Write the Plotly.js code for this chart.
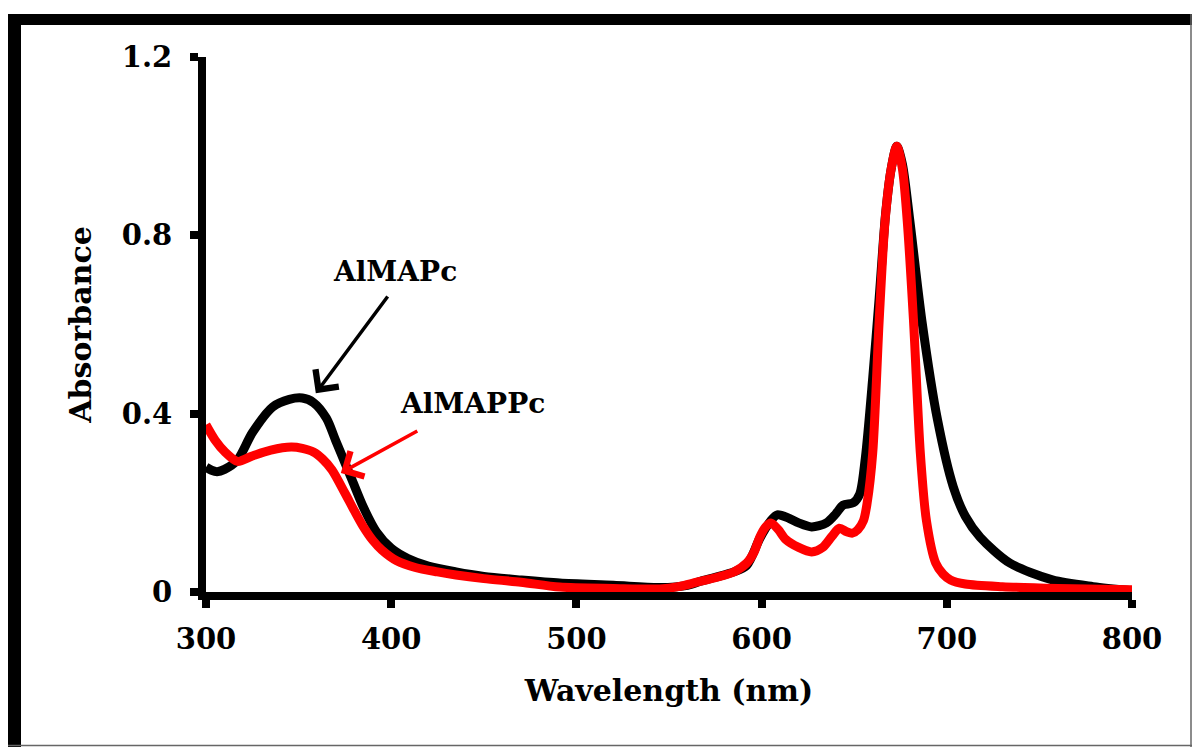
<!DOCTYPE html>
<html>
<head>
<meta charset="utf-8">
<script src="https://cdn.plot.ly/plotly-3.0.1.min.js"></script>
<style>
  html, body { margin: 0; padding: 0; background: #fff; }
  #chart { width: 1192px; height: 747px; }
</style>
</head>
<body>
<div id="chart"></div>
<script>
// ---- data ----
const blackName = "AlMAPc";
const redName = "AlMAPPc";

const wlBlack = [300,303,306,310,317,325,336,345,352,358,365,370,375,379,385,392,400,409,420,435,450,470,491,520,545,560,567,575,585,592,599,605,608.5,615,620,627,635,640,644,649.5,653,656,660,663.5,667,670,673,676,680,686.5,695,703.5,710,718,734,757,779,800];
const absBlack = [0.28,0.273,0.27,0.275,0.296,0.357,0.415,0.432,0.435,0.425,0.39,0.34,0.29,0.25,0.19,0.135,0.098,0.075,0.058,0.045,0.035,0.027,0.02,0.015,0.01,0.015,0.024,0.033,0.045,0.06,0.12,0.16,0.173,0.165,0.155,0.146,0.155,0.175,0.195,0.2,0.22,0.3,0.48,0.66,0.85,0.95,1.0,0.96,0.834,0.61,0.386,0.236,0.17,0.123,0.065,0.027,0.012,0.003];

const wlRed = [300,305,310,317,325,335,346,352,358,363,368,375,380,385,390,395,403,413,425,435,450,470,491,520,545,555,565,575,585,592,596,599,602,605,609,613,620,627,633,638,642,646,649,652,655,657,660,663.5,666.7,670,673,676,678.6,682,685.7,689,694,698,702,710,730,760,800];
const absRed = [0.375,0.34,0.315,0.293,0.305,0.318,0.325,0.322,0.314,0.298,0.274,0.222,0.183,0.146,0.116,0.094,0.07,0.055,0.045,0.038,0.03,0.022,0.011,0.008,0.007,0.012,0.022,0.032,0.045,0.065,0.09,0.123,0.145,0.155,0.14,0.118,0.1,0.09,0.1,0.125,0.143,0.135,0.132,0.14,0.16,0.2,0.312,0.61,0.834,0.95,1.0,0.95,0.834,0.61,0.312,0.16,0.065,0.04,0.027,0.018,0.012,0.008,0.005];

const xTickVals = [300,400,500,600,700,800];
const yTickVals = [0,0.4,0.8,1.2];
const yTickText = ["0","0.4","0.8","1.2"];

const xTitle = "Wavelength (nm)";
const yTitle = "Absorbance";

// ---- layout geometry ----
const W = 1192, H = 747;
const M = {l: 206, r: 60, t: 57, b: 155};
const PW = W - M.l - M.r, PH = H - M.t - M.b;
const px2x = p => (p - M.l) / PW;
const py2y = p => (H - M.b - p) / PH;

const serif = "DejaVu Serif, Liberation Serif, serif";

const traces = [
  {x: wlBlack, y: absBlack, name: blackName, type: "scatter", mode: "lines",
   line: {color: "#000000", width: 9, shape: "spline", smoothing: 0.8}},
  {x: wlRed, y: absRed, name: redName, type: "scatter", mode: "lines",
   line: {color: "#ff0000", width: 9, shape: "spline", smoothing: 0.8}}
];

const axisCommon = {
  showgrid: false, zeroline: false, showline: true,
  linecolor: "#000", linewidth: 8, mirror: false,
  ticks: "outside", ticklen: 8, tickwidth: 8, tickcolor: "#000",
  tickfont: {family: serif, size: 29, color: "#000", weight: "bold"}
};

const layout = {
  width: W, height: H,
  margin: M,
  paper_bgcolor: "#fff", plot_bgcolor: "#fff",
  showlegend: false,
  xaxis: Object.assign({}, axisCommon, {
    range: [300, 800], tickvals: xTickVals, ticklabelstandoff: 6,
    title: {text: xTitle, standoff: 28, font: {family: serif, size: 30, color: "#000", weight: "bold"}}
  }),
  yaxis: Object.assign({}, axisCommon, {
    range: [0, 1.2], tickvals: yTickVals, ticktext: yTickText, ticklabelstandoff: 12,
    title: {text: yTitle, standoff: 24, font: {family: serif, size: 30, color: "#000", weight: "bold"}}
  }),
  annotations: [
    {x: 401.9, y: 0.718, xref: "x", yref: "y", text: blackName, showarrow: false,
     font: {family: serif, size: 28, color: "#000", weight: "bold"}},
    {x: 359.3, y: 0.446, xref: "x", yref: "y", ax: 398.7, ay: 0.666, axref: "x", ayref: "y",
     text: "", showarrow: true, arrowhead: 4, arrowsize: 1.6, arrowwidth: 3.5, arrowcolor: "#000"},
    {x: 444, y: 0.422, xref: "x", yref: "y", text: redName, showarrow: false,
     font: {family: serif, size: 28, color: "#000", weight: "bold"}},
    {x: 372.8, y: 0.267, xref: "x", yref: "y", ax: 414.9, ay: 0.363, axref: "x", ayref: "y",
     text: "", showarrow: true, arrowhead: 4, arrowsize: 1.6, arrowwidth: 3.5, arrowcolor: "#ff0000"}
  ],
  shapes: [
    // outer frame: thick left & top, thin right & bottom
    {type: "line", xref: "paper", yref: "paper", x0: px2x(14.5), x1: px2x(14.5), y0: py2y(14), y1: py2y(747), line: {color: "#000", width: 13}},
    {type: "line", xref: "paper", yref: "paper", x0: px2x(8), x1: px2x(1192), y0: py2y(19.5), y1: py2y(19.5), line: {color: "#000", width: 11}},
    {type: "line", xref: "paper", yref: "paper", x0: px2x(1191), x1: px2x(1191), y0: py2y(14), y1: py2y(747), line: {color: "#666", width: 1.5}},
    {type: "line", xref: "paper", yref: "paper", x0: px2x(8), x1: px2x(1192), y0: py2y(745.5), y1: py2y(745.5), line: {color: "#666", width: 1.5}}
  ]
};

Plotly.newPlot("chart", traces, layout, {displayModeBar: false, staticPlot: true});
</script>
</body>
</html>
